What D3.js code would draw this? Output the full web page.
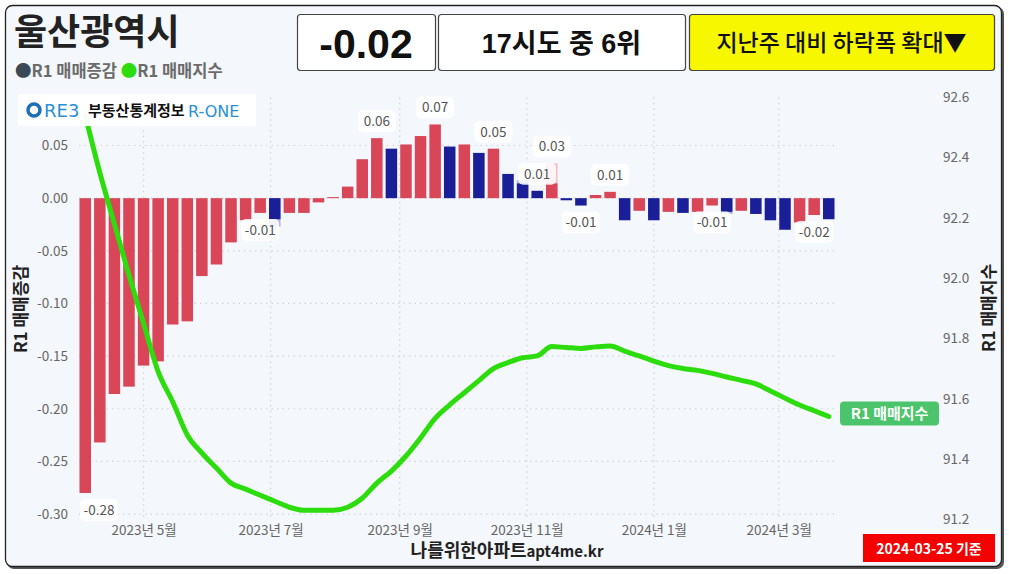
<!DOCTYPE html>
<html>
<head>
<meta charset="utf-8">
<script src="https://cdn.jsdelivr.net/npm/d3@7"></script>
<style>
  body { margin: 0; background: #fff; font-family: "Noto Sans CJK KR", "Noto Sans", sans-serif; }
  svg text { font-family: "Noto Sans CJK KR", "Noto Sans", sans-serif; }
</style>
</head>
<body>
<svg id="chart"></svg>
<script>
// weekly data, 2023-04-03 .. 2024-03-25
const firstWeek = new Date(2023, 3, 3);
const lastWeek = new Date(2024, 2, 25);

// R1 매매증감 (weekly change, %)
const changes = [
  -0.280, -0.232, -0.186, -0.179, -0.159, -0.155, -0.120, -0.117, -0.074, -0.063,
  -0.042, -0.021, -0.014, -0.020, -0.014, -0.014, -0.004, 0.001, 0.011, 0.037,
  0.057, 0.047, 0.051, 0.059, 0.070, 0.049, 0.051, 0.043, 0.047, 0.023,
  0.014, 0.007, 0.014, -0.002, -0.007, 0.003, 0.006, -0.021, -0.012, -0.021,
  -0.013, -0.014, -0.013, -0.007, -0.013, -0.012, -0.015, -0.021, -0.030, -0.023,
  -0.016, -0.020
];
// 1 = blue bar, 0 = red bar
const blueBar = [
  0, 0, 0, 0, 0, 0, 0, 0, 0, 0,
  0, 0, 0, 1, 0, 0, 0, 0, 0, 0,
  0, 1, 0, 0, 0, 1, 0, 1, 0, 1,
  1, 1, 0, 1, 1, 0, 0, 1, 0, 1,
  0, 1, 0, 0, 1, 0, 1, 1, 1, 0,
  0, 1
];
// faded overlay bars
const ghostIdx = [13, 30, 32, 44];
const ghostVal = [-0.027, 0.017, 0.033, -0.015];

// R1 매매지수
const index = [
  92.54, 92.35, 92.18, 92.01, 91.85, 91.69, 91.59, 91.48, 91.42, 91.37,
  91.32, 91.30, 91.28, 91.26, 91.24, 91.23, 91.23, 91.23, 91.24, 91.27,
  91.32, 91.36, 91.41, 91.47, 91.535, 91.58, 91.62, 91.66, 91.70, 91.72,
  91.736, 91.742, 91.773, 91.77, 91.767, 91.772, 91.775, 91.758, 91.742, 91.725,
  91.71, 91.70, 91.694, 91.684, 91.672, 91.661, 91.649, 91.626, 91.602, 91.579,
  91.56, 91.541
];

// value labels
const labelIdx = [0, 12, 20, 24, 28, 31, 32, 34, 36, 43, 50];
const labelText = ["-0.28", "-0.01", "0.06", "0.07", "0.05", "0.01", "0.03", "-0.01", "0.01", "-0.01", "-0.02"];

const leftTicks = [0.05, 0, -0.05, -0.1, -0.15, -0.2, -0.25, -0.3];
const rightTicks = [92.6, 92.4, 92.2, 92.0, 91.8, 91.6, 91.4, 91.2];
const monthTicks = [
  new Date(2023, 4, 1), new Date(2023, 6, 1), new Date(2023, 8, 1),
  new Date(2023, 10, 1), new Date(2024, 0, 1), new Date(2024, 2, 1)
];

const w = 1009, h = 574;
const pL = 79, pR = 835, pT = 97.3, pB = 519.3;

const weeks = d3.timeMonday.range(firstWeek, d3.timeDay.offset(lastWeek, 1));
const data = weeks.map((d, i) => ({
  date: d, v: changes[i], idx: index[i], blue: blueBar[i] === 1
}));

const svg = d3.select("#chart").attr("width", w).attr("height", h);

// card
svg.append("rect")
  .attr("x", 7).attr("y", 7).attr("width", 997).attr("height", 562)
  .attr("rx", 7).attr("fill", "#555");
svg.append("rect")
  .attr("x", 5.5).attr("y", 5.5).attr("width", 996).attr("height", 561)
  .attr("rx", 7).attr("fill", "#f4f7fb").attr("stroke", "#222").attr("stroke-width", 1.3);

const x = d3.scaleTime()
  .domain([d3.timeDay.offset(firstWeek, -3), d3.timeDay.offset(lastWeek, 3)])
  .range([pL, pR]);
const yL = d3.scaleLinear().domain([-0.305, 0.0958]).range([pB, pT]);
const yR = d3.scaleLinear().domain([91.2, 92.6]).range([pB, pT]);
const bw = 11.5;

// grid
svg.append("g").selectAll("line").data(leftTicks).enter().append("line")
  .attr("x1", pL).attr("x2", pR)
  .attr("y1", (d) => yL(d)).attr("y2", (d) => yL(d))
  .attr("stroke", "#cfd4db").attr("stroke-width", 1.2).attr("stroke-dasharray", "1.5,4");
svg.append("g").selectAll("line").data(monthTicks).enter().append("line")
  .attr("x1", (d) => x(d)).attr("x2", (d) => x(d))
  .attr("y1", pT).attr("y2", pB)
  .attr("stroke", "#cfd4db").attr("stroke-width", 1.2).attr("stroke-dasharray", "1.5,4");

// axes
const axisL = svg.append("g").attr("transform", `translate(${pL}, 0)`)
  .call(d3.axisLeft(yL).tickValues(leftTicks).tickSize(0).tickPadding(11).tickFormat((d) => d.toFixed(2)));
const axisR = svg.append("g").attr("transform", "translate(943, 0)")
  .call(d3.axisRight(yR).tickValues(rightTicks).tickSize(0).tickPadding(0).tickFormat((d) => d.toFixed(1)));
const axisX = svg.append("g").attr("transform", `translate(0, ${pB})`)
  .call(d3.axisBottom(x).tickValues(monthTicks).tickSize(0).tickPadding(6).tickFormat(d3.timeFormat("%Y년 %-m월")));
[axisL, axisR, axisX].forEach((g) => {
  g.select(".domain").remove();
  g.selectAll("text").attr("fill", "#666").style("font-size", "13.5px")
    .style("font-family", "'Noto Sans CJK KR', 'Noto Sans', sans-serif");
});

// ghost bars
const ghosts = ghostIdx.map((i, k) => ({ d: data[i], v: ghostVal[k] }));
svg.append("g").selectAll("rect").data(ghosts).enter().append("rect")
  .attr("x", (g) => x(g.d.date) - bw / 2)
  .attr("width", bw)
  .attr("y", (g) => Math.min(yL(0), yL(g.v)))
  .attr("height", (g) => Math.abs(yL(g.v) - yL(0)))
  .attr("fill", (g) => (g.d.blue ? "#aeb3e2" : "#f3b7bf"));

// bars
svg.append("g").selectAll(".bar").data(data).enter().append("rect")
  .attr("class", "bar")
  .attr("x", (d) => x(d.date) - bw / 2)
  .attr("width", bw)
  .attr("y", (d) => Math.min(yL(0), yL(d.v)))
  .attr("height", (d) => Math.max(1, Math.abs(yL(d.v) - yL(0))))
  .attr("fill", (d) => (d.blue ? "#1a1f98" : "#d84658"));

// index line
const line = d3.line()
  .x((d) => x(d.date))
  .y((d) => yR(d.idx))
  .curve(d3.curveMonotoneX);
svg.append("path").datum(data)
  .attr("d", line)
  .attr("fill", "none")
  .attr("stroke", "#2ddc0c")
  .attr("stroke-width", 5)
  .attr("stroke-linecap", "round")
  .attr("stroke-linejoin", "round");

// value labels
const labels = labelIdx.map((i, k) => {
  const gi = ghostIdx.indexOf(i);
  let v = data[i].v;
  if (gi >= 0 && Math.abs(ghostVal[gi]) > Math.abs(v)) v = ghostVal[gi];
  return { d: data[i], v: v, text: labelText[k] };
});
const lab = svg.append("g").selectAll("g").data(labels).enter().append("g")
  .attr("transform", (l) => {
    const cx = Math.max(x(l.d.date), 99);
    const cy = l.v >= 0 ? yL(l.v) - 17 : yL(l.v) + 17;
    return `translate(${cx}, ${cy})`;
  });
lab.append("rect")
  .attr("x", -19).attr("y", -11).attr("width", 38).attr("height", 22).attr("rx", 5)
  .attr("fill", "#fff").attr("opacity", 0.85);
lab.append("text")
  .attr("text-anchor", "middle").attr("dy", "0.36em")
  .attr("fill", "#555").style("font-size", "13.5px")
  .text((l) => l.text);

// end label for line
const last = data[data.length - 1];
const endG = svg.append("g").attr("transform", `translate(840, ${yR(last.idx) - 15})`);
endG.append("rect").attr("width", 99).attr("height", 24).attr("rx", 4).attr("fill", "#4cc46c");
endG.append("text").attr("x", 49.5).attr("y", 17.5).attr("text-anchor", "middle")
  .attr("fill", "#fff").style("font-size", "15px").style("font-weight", "bold")
  .text("R1 매매지수");

// logo box (covers the start of the line)
const logo = svg.append("g");
logo.append("rect").attr("x", 18).attr("y", 94).attr("width", 238).attr("height", 32)
  .attr("rx", 3).attr("fill", "#fff").attr("opacity", 0.95);
logo.append("circle").attr("cx", 34).attr("cy", 110).attr("r", 6)
  .attr("fill", "none").attr("stroke", "#1d6fb8").attr("stroke-width", 3.5);
logo.append("text").attr("x", 44).attr("y", 117)
  .attr("fill", "#2a8fd4").style("font-size", "18px")
  .style("font-family", "'DejaVu Sans', sans-serif").text("RE3");
logo.append("text").attr("x", 88).attr("y", 116)
  .attr("fill", "#111").style("font-size", "15px").style("font-weight", "bold")
  .text("부동산통계정보");
logo.append("text").attr("x", 188).attr("y", 117)
  .attr("fill", "#2a8fd4").style("font-size", "16px")
  .style("font-family", "'DejaVu Sans', sans-serif").text("R-ONE");

// axis titles
svg.append("text")
  .attr("transform", "translate(27, 309) rotate(-90)")
  .attr("text-anchor", "middle").attr("fill", "#222")
  .style("font-size", "17px").style("font-weight", "bold").text("R1 매매증감");
svg.append("text")
  .attr("transform", "translate(995, 308) rotate(-90)")
  .attr("text-anchor", "middle").attr("fill", "#222")
  .style("font-size", "17px").style("font-weight", "bold").text("R1 매매지수");

// title and legend
svg.append("text").attr("x", 14).attr("y", 45)
  .attr("fill", "#222").style("font-size", "36px").style("font-weight", "bold")
  .text("울산광역시");
const leg = svg.append("text").attr("x", 15).attr("y", 77)
  .style("font-size", "16.5px").style("font-weight", "bold");
leg.append("tspan").attr("fill", "#3b4856").text("●");
leg.append("tspan").attr("fill", "#6b6b6b").text("R1 매매증감 ");
leg.append("tspan").attr("fill", "#2ddc0c").text("●");
leg.append("tspan").attr("fill", "#6b6b6b").text("R1 매매지수");

// header boxes
const boxes = [
  { x: 297, w: 138, fill: "#fff", text: "-0.02", size: 41, weight: "bold", font: "'Liberation Sans', Arial, sans-serif" },
  { x: 438, w: 247, fill: "#fff", text: "17시도 중 6위", size: 27, weight: "bold", font: "'Liberation Sans', 'Noto Sans CJK KR', sans-serif" },
  { x: 689, w: 305, fill: "#f7f700", text: "지난주 대비 하락폭 확대▼", size: 23, weight: "500", font: "'Noto Sans CJK KR', sans-serif" }
];
const bx = svg.append("g").selectAll("g").data(boxes).enter().append("g");
bx.append("rect")
  .attr("x", (b) => b.x + 0.5).attr("y", 14.5).attr("width", (b) => b.w).attr("height", 56)
  .attr("rx", 3).attr("fill", (b) => b.fill).attr("stroke", "#444").attr("stroke-width", 1.2);
bx.append("text")
  .attr("x", (b) => b.x + b.w / 2).attr("y", 43).attr("dy", "0.36em")
  .attr("text-anchor", "middle").attr("fill", "#111")
  .style("font-size", (b) => b.size + "px").style("font-weight", (b) => b.weight)
  .style("font-family", (b) => b.font)
  .text((b) => b.text);

// footer
const foot = svg.append("text").attr("x", 507).attr("y", 557).attr("text-anchor", "middle").attr("fill", "#222");
foot.append("tspan").style("font-size", "18px").style("font-weight", "bold").text("나를위한아파트");
foot.append("tspan").style("font-size", "15px").style("font-weight", "bold").text("apt4me.kr");

svg.append("rect").attr("x", 863).attr("y", 534).attr("width", 132).attr("height", 28).attr("fill", "#f40000");
svg.append("text").attr("x", 929).attr("y", 553.5).attr("text-anchor", "middle")
  .attr("fill", "#fff").style("font-size", "14px").style("font-weight", "bold")
  .text("2024-03-25 기준");
</script>
</body>
</html>
